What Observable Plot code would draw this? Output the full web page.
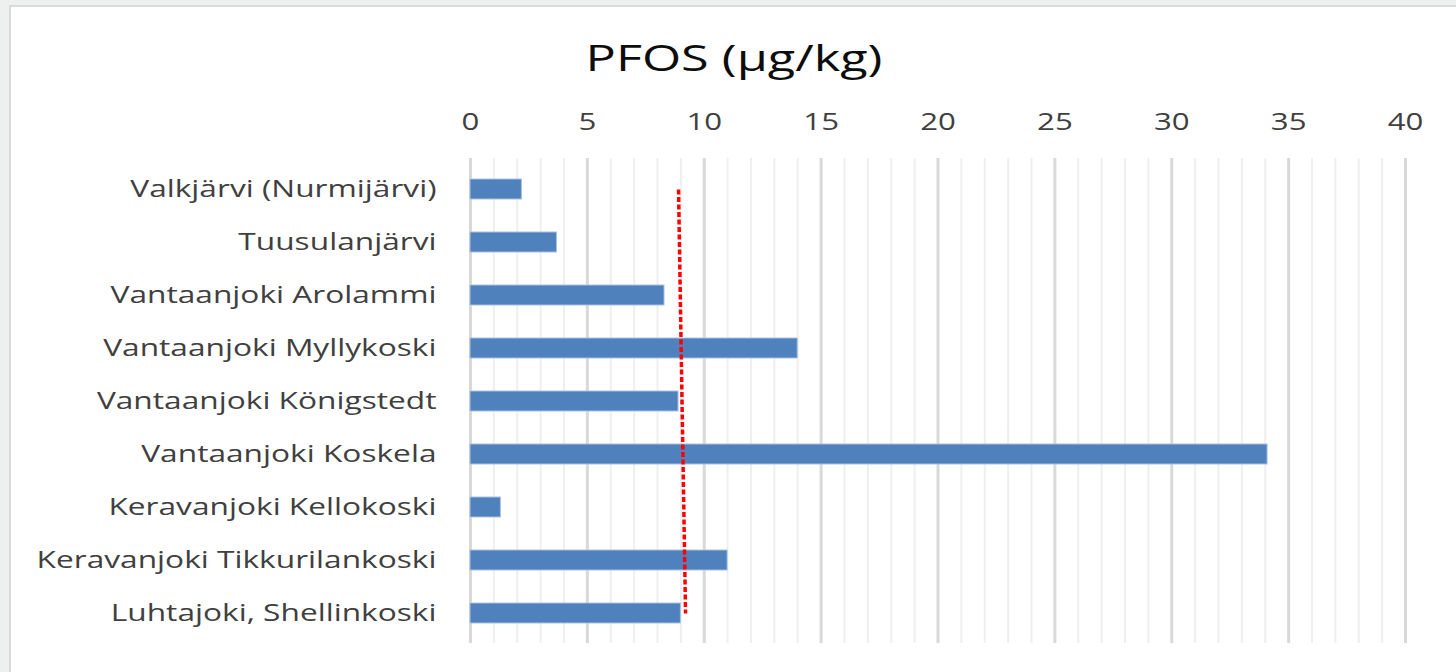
<!DOCTYPE html>
<html><head><meta charset="utf-8">
<script src="https://cdn.jsdelivr.net/npm/d3@7"></script>
<script src="https://cdn.jsdelivr.net/npm/@observablehq/plot@0.6"></script>
<style>
html,body{margin:0;padding:0;width:1456px;height:672px;overflow:hidden;background:#eef0ef;font-family:"Open Sans",sans-serif}
#box{position:absolute;left:9px;top:5px;width:1460px;height:700px;background:#fff;border:2px solid #dadada;box-sizing:border-box}
#title{position:absolute;left:10px;width:1456px;top:38px;text-align:center;font-size:36px;line-height:40px;color:#0d0d0d;transform:scaleX(1.4);transform-origin:738px 0}
#chart{position:absolute;left:0;top:0}
</style></head><body>
<div id="box"></div>
<div id="title">PFOS (µg/kg)</div>
<div id="chart"></div>
<script>
const sites = [
  "Valkjärvi (Nurmijärvi)",
  "Tuusulanjärvi",
  "Vantaanjoki Arolammi",
  "Vantaanjoki Myllykoski",
  "Vantaanjoki Königstedt",
  "Vantaanjoki Koskela",
  "Keravanjoki Kellokoski",
  "Keravanjoki Tikkurilankoski",
  "Luhtajoki, Shellinkoski"
];
const pfos = [2.2, 3.7, 8.3, 14.0, 8.9, 34.1, 1.3, 11.0, 9.0];
const majorTicks = [0, 5, 10, 15, 20, 25, 30, 35, 40];
const minorTicks = d3.range(0, 41);
// hand-drawn reference line (slightly slanted in original)
const refTop = 8.9, refBottom = 9.2;

const data = sites.map((s, i) => ({site: s, value: pfos[i]}));

const chart = Plot.plot({
  width: 1456, height: 672,
  marginLeft: 470, marginRight: 51, marginTop: 158, marginBottom: 29,
  style: {background: "transparent", fontFamily: "Open Sans", fontSize: "24px", color: "#404040"},
  x: {domain: [0, 40], axis: "top", ticks: majorTicks, tickSize: 0, tickPadding: 29, label: null},
  y: {domain: sites, paddingInner: 0.63, paddingOuter: 0.315, tickSize: 0, tickPadding: 34, label: null},
  marks: [
    Plot.ruleX(minorTicks.filter(d => d % 5 !== 0), {stroke: "#efefef", strokeWidth: 2}),
    Plot.ruleX(majorTicks, {stroke: "#d9d9d9", strokeWidth: 3}),
    Plot.barX(data, {x: "value", y: "site", fill: "#4f81bd", stroke: "#a9c1e2", strokeWidth: 1}),
    Plot.link([0], {x1: () => refTop, x2: () => refBottom, y1: () => sites[0], y2: () => sites[sites.length - 1],
      stroke: "#ff0000", strokeWidth: 3.5, strokeDasharray: "5 2.5"})
  ]
});

// the reference's text is horizontally stretched; widen the glyphs around their anchors
function stretch(selector, sx) {
  chart.querySelectorAll(selector).forEach(t => {
    let tr = t.getAttribute("transform");
    if (!tr) {
      const x = t.getAttribute("x") || 0, y = t.getAttribute("y") || 0;
      t.removeAttribute("x"); t.removeAttribute("y");
      tr = `translate(${x},${y})`;
    }
    t.setAttribute("transform", tr + ` scale(${sx},1)`);
  });
}
stretch('g[aria-label="y-axis tick label"] text', 1.32);
stretch('g[aria-label="x-axis tick label"] text', 1.3);

document.getElementById("chart").appendChild(chart);
</script>
</body></html>
